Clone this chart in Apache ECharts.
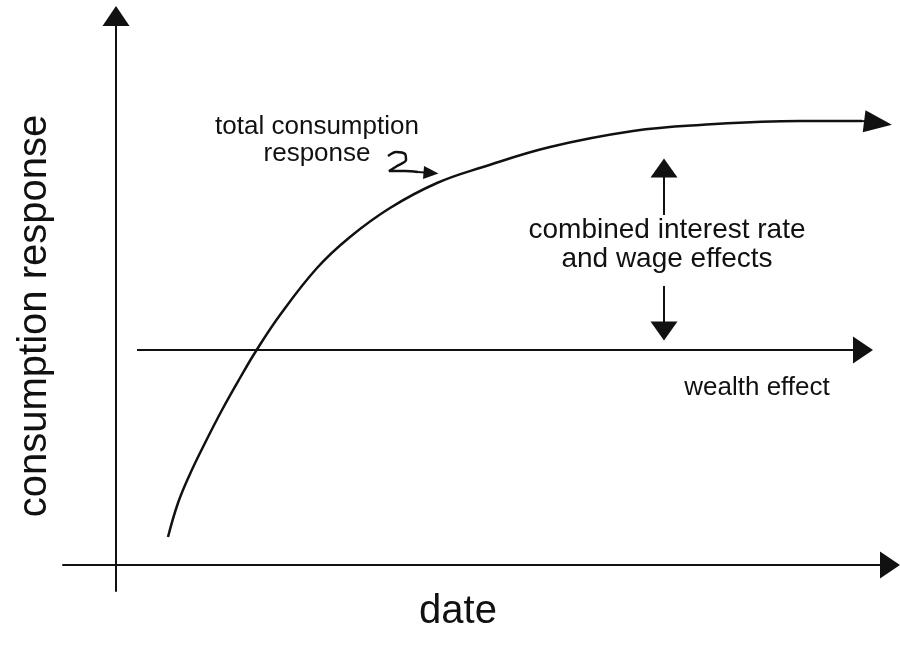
<!DOCTYPE html>
<html>
<head>
<meta charset="utf-8">
<script src="https://cdn.jsdelivr.net/npm/echarts@6/dist/echarts.min.js"></script>
<style>
	html, body { margin: 0; padding: 0; background: #fff; }
	#chart { width: 900px; height: 646px; }
</style>
</head>
<body>
<div id="chart"></div>
<script>
// chart units: date along x, consumption response along y, origin where the axes cross
const dates = [1.04, 1.24, 1.48, 1.78, 2.12, 2.48, 2.8, 3.28, 4.02, 4.68, 5.48, 6.42, 7.34, 8.68, 10.34, 11.68, 13.68, 14.92];
const totalResponse = [1.12, 2.48, 3.64, 4.88, 6.2, 7.48, 8.56, 10.0, 11.88, 13.12, 14.28, 15.28, 15.92, 16.72, 17.36, 17.6, 17.76, 17.76];
const totalArrowHead = [15.24, 17.68];

const wealthEffect = 8.6;
const wealthDates = [0.42, 14.94];

const gapDate = 10.96;
const gapUp = [14.0, 15.88];
const gapDown = [11.16, 9.36];

// the little "2"-shaped pointer next to the label
const pointerX = [5.44, 5.6, 5.78, 5.8, 5.62, 5.46, 5.78, 6.04];
const pointerY = [16.36, 16.52, 16.44, 16.2, 15.96, 15.76, 15.76, 15.72];
const pointerHead = [6.3, 15.68];

const X_RANGE = [-1.06, 15.48];
const Y_RANGE = [-1.04, 21.96];

const INK = '#111';
const FONT = '"Liberation Sans", Arial, Helvetica, sans-serif';

let zip = (xs, ys) => xs.map((x, i) => [x, ys[i]]);

function arrowHead(from, to, size) {
	return {
		silent: true,
		symbol: ['none', 'triangle'],
		label: { show: false },
		lineStyle: { color: INK, width: 2, type: 'solid' },
		itemStyle: { color: INK },
		emphasis: { disabled: true },
		animation: false,
		data: [[
			{ coord: from, symbol: 'none' },
			{ coord: to, symbol: 'triangle', symbolSize: size }
		]]
	};
}

function inkLine(name, data, width, extra) {
	return Object.assign({
		name, type: 'line', data,
		showSymbol: false, symbol: 'none', silent: true,
		lineStyle: { color: INK, width },
		itemStyle: { color: INK },
		animation: false
	}, extra);
}

function text(content, x, y, size, extra) {
	return Object.assign({
		type: 'text', x, y, silent: true,
		style: {
			text: content, fill: INK, font: `${size}px ${FONT}`,
			textAlign: 'center', textVerticalAlign: 'middle',
			align: 'center', verticalAlign: 'middle',
			lineHeight: Math.round(size * 1.05)
		}
	}, extra);
}

let chart = echarts.init(document.getElementById('chart'));
let total = zip(dates, totalResponse);
let pointer = zip(pointerX, pointerY);

chart.setOption({
	backgroundColor: '#fff',
	animation: false,
	grid: { left: 63, right: 10, top: 16, bottom: 55 },
	xAxis: {
		type: 'value', min: X_RANGE[0], max: X_RANGE[1],
		axisLine: { onZero: true, symbol: ['none', 'triangle'], symbolSize: [27, 20],
			lineStyle: { color: INK, width: 2 } },
		axisTick: { show: false }, axisLabel: { show: false }, splitLine: { show: false }
	},
	yAxis: {
		type: 'value', min: Y_RANGE[0], max: Y_RANGE[1],
		axisLine: { show: true, onZero: true, symbol: ['none', 'triangle'], symbolSize: [27, 20],
			lineStyle: { color: INK, width: 2 } },
		axisTick: { show: false }, axisLabel: { show: false }, splitLine: { show: false }
	},
	series: [
		inkLine('total consumption response', total, 2.5, {
			smooth: 0.4,
			markLine: arrowHead(total[total.length - 1], totalArrowHead, [22, 28])
		}),
		inkLine('wealth effect', wealthDates.map(d => [d, wealthEffect]), 2, {
			markLine: arrowHead([wealthDates[0], wealthEffect], [wealthDates[1], wealthEffect], [27, 20])
		}),
		inkLine('gap up', [[gapDate, gapUp[0]], [gapDate, gapUp[1]]], 2, {
			markLine: arrowHead([gapDate, gapUp[0]], [gapDate, gapUp[1]], [27, 19])
		}),
		inkLine('gap down', [[gapDate, gapDown[0]], [gapDate, gapDown[1]]], 2, {
			markLine: arrowHead([gapDate, gapDown[0]], [gapDate, gapDown[1]], [27, 19])
		}),
		inkLine('pointer', pointer, 2.5, {
			smooth: 0.3,
			markLine: arrowHead(pointer[pointer.length - 1], pointerHead, [13, 15])
		})
	],
	graphic: [
		text('total consumption\nresponse', 317, 140, 26),
		text('combined interest rate\nand wage effects', 667, 245, 28),
		text('wealth effect', 757, 388, 26),
		text('date', 458, 612, 40),
		text('consumption response', 35, 316, 40, { rotation: Math.PI / 2 })
	]
});
</script>
</body>
</html>
